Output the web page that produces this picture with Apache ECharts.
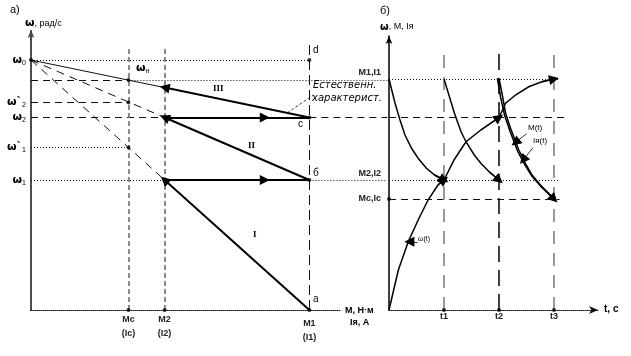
<!DOCTYPE html>
<html><head><meta charset="utf-8">
<script src="https://cdn.jsdelivr.net/npm/echarts@6/dist/echarts.min.js"></script>
<style>html,body{margin:0;padding:0;background:#fff}#c{width:631px;height:356px}</style>
</head><body><div id="c"></div>
<script>
// ---------- Panel а: mechanical characteristics ----------
const torqueNames = ['Mc', 'M2', 'M1'];
const currentNames = ['Ic', 'I2', 'I1'];
const torqueVals = [35, 48, 100];
const speedSub = ['0', 'н', '2', '2', '1', '1'];
const speedMark = ['', '', '`', '', '`', ''];
const speedVals = [100, 92, 83, 77, 65, 52];   // ω0, ωн, ω'2, ω2, ω'1, ω1
// ---------- Panel б: transients ----------
const timeNames = ['t1', 't2', 't3'];
const timeVals = [1, 2, 3];
const levelNames = ['M1,I1', 'M2,I2', 'Mc,Ic'];
const levelVals = [92.4, 52, 44.4];
const mSeg1T = [0, 0.11, 0.2, 0.29, 0.41, 0.53, 0.68, 0.83, 1.0];
const mSeg1V = [92.4, 82.7, 76, 70, 64.7, 60.7, 56.7, 54, 52];
const mSeg2T = [1.0, 1.19, 1.31, 1.4, 1.55, 1.67, 1.82, 2.0];
const mSeg2V = [92.4, 78.7, 71.3, 67.3, 62, 58.7, 55.3, 52];
const mSeg3T = [2, 2.06, 2.12, 2.21, 2.36, 2.48, 2.6, 2.78, 3.0];
const mSeg3V = [92.7, 86, 78.7, 72.7, 64, 58.7, 54, 49.3, 44.4];
const iSeg3T = [1.97, 2.03, 2.1, 2.2, 2.34, 2.47, 2.6, 2.78, 3.0];
const iSeg3V = [92.7, 85, 78, 71.5, 63.5, 58, 53.5, 49, 44.4];
const wSeg1T = [0, 0.17, 0.35, 0.53, 0.71, 0.89, 1.0];
const wSeg1V = [0, 16, 27.3, 36, 44, 50, 52];
const wSeg2T = [1.0, 1.19, 1.4, 1.67, 2.0];
const wSeg2V = [52, 60.3, 67.3, 72, 77];
const wSeg3T = [2.0, 2.12, 2.3, 2.54, 2.78, 3.0];
const wSeg3V = [77, 82.7, 86, 89.3, 91.3, 92.4];

const [MC, M2, M1] = torqueVals;
const [W0, WN, W2P, W2, W1P, W1] = speedVals;
const w3AtM2 = W0 - (W0 - W2) * M2 / M1;
const zip = (a, b) => a.map((x, i) => [x, b[i]]);
const lastSeg = (a, b) => [[a[a.length - 2], b[b.length - 2]], [a[a.length - 1], b[b.length - 1]]];

const FONT = 'Liberation Sans';
const DOT = { type: [1, 2], color: '#111', width: 1 };
const DASH = { type: [7, 5], color: '#111', width: 1 };
const VDASH = { type: [5, 3], color: '#666', width: 1.5 };
const M1DASH = { type: [10, 5], color: '#111', width: 1 };
const TGRAY = { type: [13, 9], color: '#999', width: 2 };
const TBLACK = { type: [16, 8], color: '#000', width: 1.5 };
const L = (c, s) => ({ coords: c, lineStyle: s });

// left panel thin guides
const leftGuides = [
  L([[0, W0], [M1, W0]], DOT),
  L([[0, WN], [MC, WN]], DASH),
  L([[MC, WN], [128, WN]], DOT),
  L([[0, W2P], [MC, W2P]], DASH),
  L([[0, W2], [M2, W2]], DASH),
  L([[M1, W2], [128, W2]], DASH),
  L([[0, W1P], [MC, W1P]], DOT),
  L([[0, W1], [M2, W1]], DOT),
  L([[M1, W1], [128, W1]], DOT),
  L([[MC, 0], [MC, 105]], VDASH),
  L([[M2, 0], [M2, 105]], VDASH),
  L([[M1, 0], [M1, 106]], M1DASH),
  L([[0, W0], [M2, w3AtM2]], { type: 'solid', color: '#111', width: 1 }),
  L([[0, W0], [M2, W2]], { type: [8, 6], color: '#111', width: 1 }),
  L([[0, W0], [M2, W1]], { type: [8, 6], color: '#111', width: 1 }),
  L([[92, W0 - (W0 - W2) * 0.92], [101.5, 86]], { type: [3, 2], color: '#111', width: 0.8 })
];
const THICK = { type: 'solid', color: '#000', width: 2 };
const leftThick = [
  L([[M2, W2], [M1, W2]], THICK),
  L([[M2, W1], [M1, W1]], THICK)
];
const leftArrows = [
  L([[M1, W2], [M2, w3AtM2]], THICK),
  L([[M1, W1], [M2, W2]], THICK),
  L([[M1, 0], [M2, W1]], THICK),
  L([[M2, W2], [84, W2]], THICK),
  L([[M2, W1], [84, W1]], THICK)
];
const rightGuides = [
  L([[0, levelVals[0]], [3.1, levelVals[0]]], DOT),
  L([[0, W2], [3.2, W2]], DASH),
  L([[0, levelVals[1]], [3.1, levelVals[1]]], DOT),
  L([[0, levelVals[2]], [3.1, levelVals[2]]], DASH),
  L([[timeVals[0], 0], [timeVals[0], 104]], TGRAY),
  L([[timeVals[1], 0], [timeVals[1], 104]], TBLACK),
  L([[timeVals[2], 0], [timeVals[2], 104]], TGRAY)
];
const CURVE = { type: 'solid', color: '#000', width: 1.5 };
const curves = [
  L(zip(mSeg1T, mSeg1V), CURVE),
  L(zip(mSeg2T, mSeg2V), CURVE),
  L(zip(mSeg3T, mSeg3V), CURVE),
  L(zip(iSeg3T, iSeg3V), CURVE),
  L(zip(wSeg1T, wSeg1V), CURVE),
  L(zip(wSeg2T, wSeg2V), CURVE),
  L(zip(wSeg3T, wSeg3V), CURVE)
];
const rightArrows = [
  L(lastSeg(mSeg1T, mSeg1V), CURVE),
  L(lastSeg(mSeg2T, mSeg2V), CURVE),
  L(lastSeg(mSeg3T, mSeg3V), CURVE),
  L(lastSeg(wSeg1T, wSeg1V), CURVE),
  L(lastSeg(wSeg2T, wSeg2V), CURVE),
  L(lastSeg(wSeg3T, wSeg3V), CURVE),
  L([[2.5, 70.5], [2.3, 67]], { color: '#000', width: 0.8 }),
  L([[2.62, 65], [2.44, 60]], { color: '#000', width: 0.8 }),
  L([[0.52, 27.3], [0.37, 27.3]], { color: '#000', width: 0.8 })
];

const dotsLeft = [[0, W0], [M1, W0], [MC, WN], [MC, W2P], [MC, W1P], [M2, w3AtM2], [M2, W2], [M2, W1],
  [M1, W2], [M1, W1], [M1, 0], [MC, 0], [M2, 0]];
const dotsRight = [[0, levelVals[2]], [timeVals[0], 0], [timeVals[1], 0], [timeVals[2], 0], [timeVals[1], W2]];

const chart = echarts.init(document.getElementById('c'), null, { renderer: 'canvas' });
const wRich = {
  w: { fontSize: 11, fontWeight: 'bold', fontFamily: 'DejaVu Sans', color: '#000' },
  s: { fontSize: 7, fontFamily: FONT, color: '#000', padding: [6, 0, 0, 0] }
};
const txt = (x, y, text, style) => ({ type: 'text', left: x, top: y,
  style: Object.assign({ text: text, fontSize: 9, fontFamily: FONT, fill: '#000' }, style || {}) });

chart.setOption({
  animation: false,
  backgroundColor: '#fff',
  grid: [
    { left: 31, top: 30, width: 309, height: 280 },
    { left: 389, top: 36, width: 209, height: 274 }
  ],
  xAxis: [
    { type: 'value', gridIndex: 0, min: 0, max: 111, splitLine: { show: false }, axisTick: { show: false },
      axisLine: { show: true, onZero: false, lineStyle: { color: '#111', type: [1, 1], width: 1 } },
      axisLabel: { customValues: torqueVals, margin: 3, fontSize: 9, fontFamily: FONT, color: '#000', lineHeight: 14,
        formatter: v => { const i = torqueVals.indexOf(v);
          const st = i === 2 ? 'b' : 'a';
          return '{' + st + '|' + torqueNames[i] + '}\n{' + st + '|(' + currentNames[i] + ')}'; },
        rich: { a: { fontSize: 9, fontWeight: 'bold', fontFamily: FONT, color: '#222' },
                b: { fontSize: 9, fontWeight: 'bold', fontFamily: FONT, color: '#222', padding: [7, 0, 0, 0] } } } },
    { type: 'value', gridIndex: 1, min: 0, max: 3.8, splitLine: { show: false }, axisTick: { show: false },
      axisLine: { show: true, onZero: false, symbol: ['none', 'arrow'], symbolSize: [6, 9],
        lineStyle: { color: '#111', type: [1, 1], width: 1 } },
      axisLabel: { customValues: timeVals, margin: 2, fontSize: 9, fontWeight: 'bold', fontFamily: FONT, color: '#222',
        formatter: v => timeNames[timeVals.indexOf(v)] } }
  ],
  yAxis: [
    { type: 'value', gridIndex: 0, min: 0, max: 112, splitLine: { show: false }, axisTick: { show: false },
      axisLine: { show: true, onZero: false, symbol: ['none', 'arrow'], symbolSize: [5, 8],
        lineStyle: { color: '#444', type: [1, 1], width: 2 } },
      axisLabel: { customValues: [W0, W2P, W2, W1P, W1], margin: 5,
        formatter: v => { const i = speedVals.indexOf(v); return '{w|ω' + speedMark[i] + '}{s|' + speedSub[i] + '}'; },
        rich: wRich } },
    { type: 'value', gridIndex: 1, min: 0, max: 109.6, splitLine: { show: false }, axisTick: { show: false },
      axisLine: { show: true, onZero: false, symbol: ['none', 'arrow'], symbolSize: [5, 8],
        lineStyle: { color: '#000', type: 'solid', width: 1.5 } },
      axisLabel: { customValues: levelVals, margin: 8, fontSize: 9, fontWeight: 'bold', fontFamily: FONT, color: '#222',
        formatter: v => { const i = levelVals.indexOf(v); return i < 2 ? '{u|' + levelNames[i] + '}' : levelNames[i]; },
        rich: { u: { fontSize: 9, fontWeight: 'bold', fontFamily: FONT, color: '#222', padding: [0, 0, 12, 0] } } } }
  ],
  series: [
    { type: 'lines', coordinateSystem: 'cartesian2d', xAxisIndex: 0, yAxisIndex: 0, clip: false, silent: true,
      data: leftGuides, lineStyle: { opacity: 1 } },
    { type: 'lines', coordinateSystem: 'cartesian2d', xAxisIndex: 0, yAxisIndex: 0, clip: false, silent: true,
      data: leftThick, lineStyle: { opacity: 1 } },
    { type: 'lines', coordinateSystem: 'cartesian2d', xAxisIndex: 0, yAxisIndex: 0, clip: false, silent: true,
      data: leftArrows, symbol: ['none', 'triangle'], symbolSize: [5, 10], lineStyle: { opacity: 1 } },
    { type: 'scatter', xAxisIndex: 0, yAxisIndex: 0, data: dotsLeft, symbolSize: 4, itemStyle: { color: '#000' }, silent: true },
    { type: 'lines', coordinateSystem: 'cartesian2d', xAxisIndex: 1, yAxisIndex: 1, clip: false, silent: true,
      data: rightGuides, lineStyle: { opacity: 1 } },
    { type: 'lines', coordinateSystem: 'cartesian2d', xAxisIndex: 1, yAxisIndex: 1, clip: false, silent: true,
      polyline: true, data: curves, lineStyle: { opacity: 1 } },
    { type: 'lines', coordinateSystem: 'cartesian2d', xAxisIndex: 1, yAxisIndex: 1, clip: false, silent: true,
      data: rightArrows, symbol: ['none', 'triangle'], symbolSize: [5, 10], lineStyle: { opacity: 1 } },
    { type: 'scatter', xAxisIndex: 1, yAxisIndex: 1, data: dotsRight, symbolSize: 4, itemStyle: { color: '#000' }, silent: true }
  ],
  graphic: [
    txt(10, 4, 'а)', { fontSize: 11 }),
    txt(25, 18, '{w|ω}, рад/с', { fontSize: 9, rich: { w: { fontSize: 11, fontWeight: 'bold', fontFamily: 'DejaVu Sans' } } }),
    txt(136, 63, '{w|ω}{s|н}', { rich: wRich }),
    txt(313, 45, 'd', { fontSize: 10 }),
    txt(298, 119, 'c', { fontSize: 10 }),
    txt(313, 168, 'б', { fontSize: 10 }),
    txt(313, 294, 'a', { fontSize: 10 }),
    txt(213, 84, 'III', { fontFamily: 'Liberation Serif', fontSize: 9, fontWeight: 'bold' }),
    txt(248, 141, 'II', { fontFamily: 'Liberation Serif', fontSize: 9, fontWeight: 'bold' }),
    txt(253, 230, 'I', { fontFamily: 'Liberation Serif', fontSize: 9, fontWeight: 'bold' }),
    txt(313, 80, 'Естественн.', { fontSize: 10, fontStyle: 'italic', fontFamily: 'DejaVu Sans' }),
    txt(312, 93, 'характерист.', { fontSize: 10, fontStyle: 'italic', fontFamily: 'DejaVu Sans' }),
    txt(345, 306, 'M, Н·м', { fontWeight: 'bold' }),
    txt(350, 318, 'Iя, A', { fontWeight: 'bold' }),
    txt(380, 5, 'б)', { fontSize: 11 }),
    txt(380, 22, '{w|ω}, M, Iя', { fontSize: 9, rich: { w: { fontSize: 10, fontWeight: 'bold', fontFamily: 'DejaVu Sans' } } }),
    txt(604, 304, 't, c', { fontSize: 10, fontWeight: 'bold' }),
    txt(528, 124, 'M(t)', { fontSize: 8 }),
    txt(533, 137, 'Iя(t)', { fontSize: 8 }),
    txt(418, 236, 'ω(t)', { fontSize: 7 })
  ]
});
</script>
</body></html>
